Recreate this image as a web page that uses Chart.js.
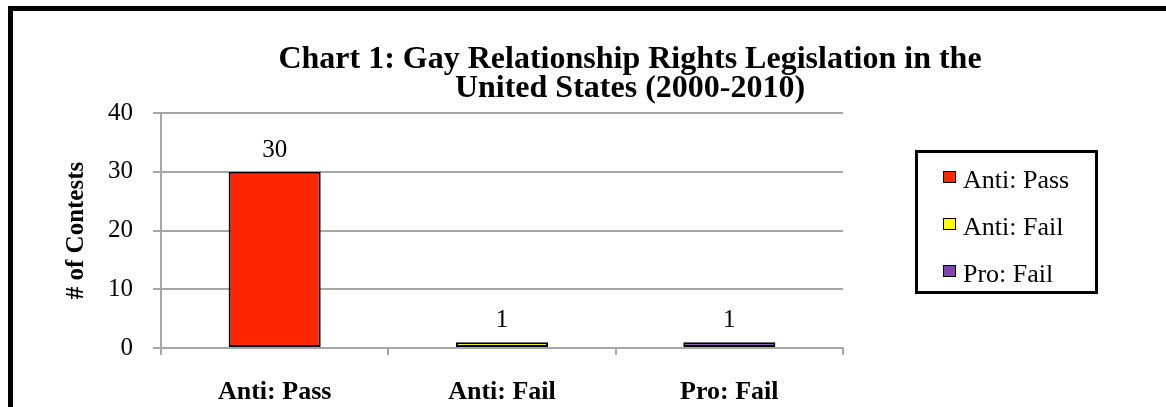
<!DOCTYPE html>
<html>
<head>
<meta charset="utf-8">
<script src="https://cdn.jsdelivr.net/npm/chart.js@4"></script>
<style>
  html, body { margin: 0; padding: 0; background: #fff; overflow: hidden; }
  body { width: 1166px; height: 407px; position: relative; font-family: "Liberation Serif", "Times New Roman", serif; }
  #frame { position: absolute; left: 8px; top: 6px; width: 2000px; height: 1000px; border-left: 5px solid #000; border-top: 5px solid #000; }
  #wrap { position: absolute; left: 0; top: 0; width: 1166px; height: 407px; }
  .title { position: absolute; left: 130px; width: 1000px; text-align: center; font-weight: bold; font-size: 32px; line-height: 29px; color: #000; white-space: nowrap; }
  #legend { position: absolute; left: 915px; top: 150px; width: 183px; height: 144px; box-sizing: border-box; border: 3px solid #000; background: #fff; padding-top: 3px; }
  .item { position: relative; height: 47px; font-size: 26px; line-height: 47px; padding-left: 45px; color: #000; }
  .item span.box { position: absolute; left: 25px; top: 15px; width: 11px; height: 10px; border: 1.5px solid #000; }
</style>
</head>
<body>
<div id="frame"></div>
<div id="wrap"><canvas id="chart" width="1166" height="407"></canvas></div>
<div class="title" style="top:43px">Chart 1: Gay Relationship Rights Legislation in the</div>
<div class="title" style="top:72px">United States (2000-2010)</div>
<div id="legend"></div>
<script>
const categories = ["Anti: Pass", "Anti: Fail", "Pro: Fail"];
const contests = [30, 1, 1];
const barColors = ["#FF2600", "#FFFF00", "#8044B4"];
const yTicks = [0, 10, 20, 30, 40];
const yTitle = "# of Contests";

const legend = document.getElementById("legend");
categories.forEach((c, i) => {
  const d = document.createElement("div");
  d.className = "item";
  d.innerHTML = '<span class="box" style="background:' + barColors[i] + '"></span>' + c;
  legend.appendChild(d);
});

const valueLabels = {
  id: "valueLabels",
  afterDatasetsDraw(chart) {
    const ctx = chart.ctx;
    ctx.save();
    ctx.font = '25px "Liberation Serif", serif';
    ctx.fillStyle = "#000";
    ctx.textAlign = "center";
    ctx.textBaseline = "alphabetic";
    chart.getDatasetMeta(0).data.forEach((bar, i) => {
      ctx.fillText(String(contests[i]), bar.x, bar.y - 15);
    });
    ctx.restore();
  }
};

new Chart(document.getElementById("chart"), {
  type: "bar",
  data: {
    labels: categories,
    datasets: [{
      data: contests,
      backgroundColor: barColors,
      borderColor: "#000",
      borderWidth: 2,
      borderSkipped: false,
      barPercentage: 0.405,
      categoryPercentage: 1
    }]
  },
  options: {
    responsive: false,
    animation: false,
    layout: { padding: { top: 113, right: 323, left: 0, bottom: 0 } },
    plugins: {
      legend: { display: false },
      tooltip: { enabled: false }
    },
    scales: {
      x: {
        afterFit(s) { s.height = 59; },
        grid: { drawOnChartArea: false, tickLength: 7, color: "#A6A6A6", lineWidth: 2 },
        border: { color: "#A6A6A6", width: 2 },
        ticks: { color: "#000", padding: 22, font: { family: '"Liberation Serif", serif', size: 26, weight: "bold" } }
      },
      y: {
        min: 0,
        max: 40,
        afterFit(s) { s.width = 161; },
        afterBuildTicks(s) { s.ticks = yTicks.map(v => ({ value: v })); },
        grid: { color: "#A6A6A6", lineWidth: 2, tickLength: 8 },
        border: { color: "#A6A6A6", width: 2 },
        ticks: { color: "#000", padding: 20, font: { family: '"Liberation Serif", serif', size: 25 } },
        title: {
          display: true,
          text: yTitle,
          color: "#000",
          padding: { top: 62, bottom: 0 },
          font: { family: '"Liberation Serif", serif', size: 25, weight: "bold" }
        }
      }
    }
  },
  plugins: [valueLabels]
});
</script>
</body>
</html>
